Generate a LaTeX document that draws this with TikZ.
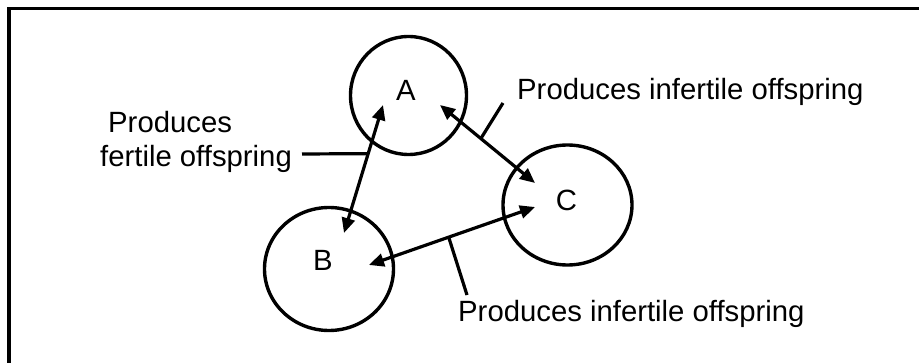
\documentclass[tikz,border=0pt]{standalone}
\usepackage{fontspec}
\setmainfont{Liberation Sans}
\usetikzlibrary{shapes.geometric, arrows.meta}

\begin{document}
\begin{tikzpicture}[x=1pt, y=-1pt,
    species/.style={draw, ellipse, line width=3.4pt, inner sep=0pt},
    link/.style={{Triangle[length=15pt,width=13pt]}-{Triangle[length=15pt,width=13pt]}, line width=3.2pt},
    leader/.style={line width=3.2pt},
    txt/.style={font=\fontsize{29.3}{34}\selectfont, inner sep=0pt}]

    \useasboundingbox (0,0) rectangle (919,363);

    % Draw the frame (top and left edges)
    \draw[line width=3.6pt] (9,380) |- (940,8.5);

    % Draw the circles for the three populations
    \node[species, minimum width=116pt, minimum height=118pt] (A) at (408.5,95.5) {};
    \node[species, minimum width=129pt, minimum height=123pt] (B) at (329,269) {};
    \node[species, minimum width=129pt, minimum height=120pt] (C) at (567.5,205) {};

    % Label the circles
    \node[txt] (la) at (406,90) {A};
    \node[txt] (lb) at (323,260) {B};
    \node[txt] (lc) at (566.5,200) {C};

    % End points of the arrows
    \coordinate (ab) at (383,105);
    \coordinate (ba) at (344,233);
    \coordinate (ac) at (440,105);
    \coordinate (ca) at (535,183);
    \coordinate (bc) at (369,265);
    \coordinate (cb) at (535,207);

    % Draw the double-headed arrows
    \draw[link] (ab) -- (ba) coordinate[pos=0.38] (mab);
    \draw[link] (ac) -- (ca) coordinate[pos=0.43] (mac);
    \draw[link] (bc) -- (cb) coordinate[pos=0.48] (mbc);

    % Texts
    \node[txt, anchor=base west] (fert1) at (108,133) {Produces};
    \node[txt, anchor=base west] (fert2) at (100,167) {fertile offspring};
    \node[txt, anchor=base west] (inf1) at (517,100) {Produces infertile offspring};
    \node[txt, anchor=base west] (inf2) at (458,322) {Produces infertile offspring};

    % Leader lines from the texts to the arrows
    \coordinate (fl) at (302,154);
    \coordinate (tl) at (503,103);
    \coordinate (bl) at (467,295);
    \draw[leader] (fl) -- (mab);
    \draw[leader] (tl) -- (mac);
    \draw[leader] (bl) -- (mbc);

\end{tikzpicture}
\end{document}
